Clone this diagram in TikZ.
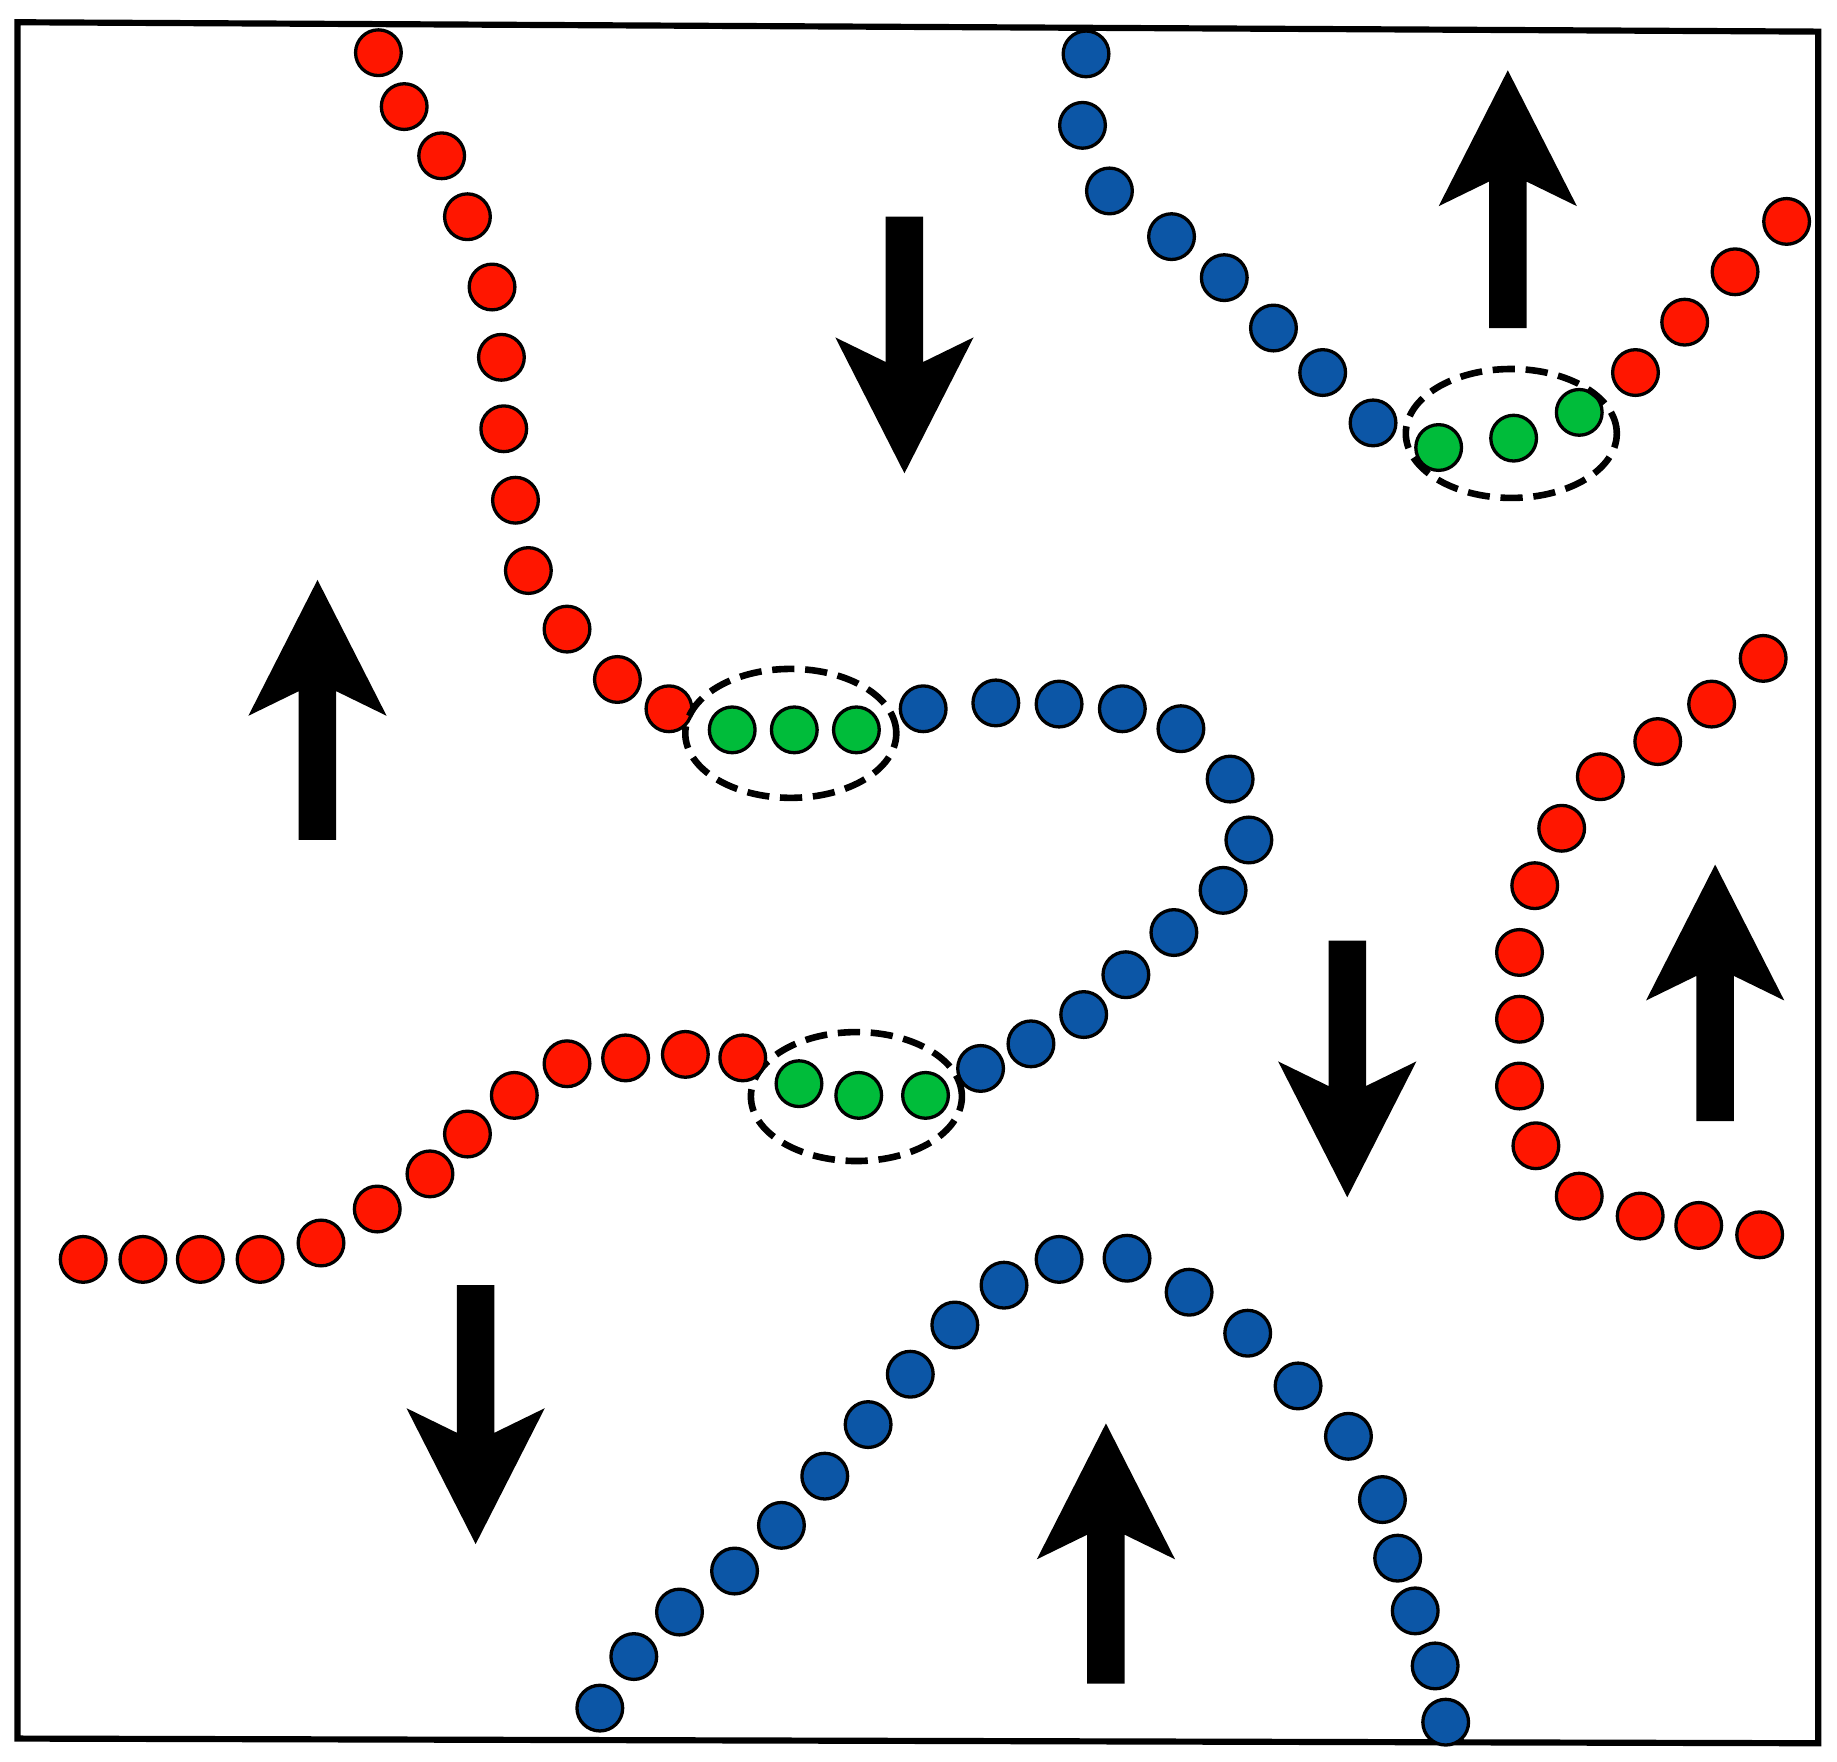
\documentclass[tikz,border=0pt]{standalone}
\usepackage{xcolor}
\usepackage{tikz}
\usetikzlibrary{calc,shapes.geometric}

\definecolor{beadred}{RGB}{255,22,0}
\definecolor{beadblue}{RGB}{12,86,166}
\definecolor{beadgreen}{RGB}{0,188,58}

% block arrow: x, tail y, tip y
\newcommand{\blockarrow}[3]{%
  \pgfmathsetmacro{\adir}{sign(#3-#2)}%
  \fill[black] (#1+16,#2) -- (#1+16,#3-95*\adir) -- (#1+59,#3-116*\adir) -- (#1,#3)
    -- (#1-59,#3-116*\adir) -- (#1-16,#3-95*\adir) -- (#1-16,#2) -- cycle;}

\begin{document}
\begin{tikzpicture}[x=0.01cm,y=-0.01cm,
  bead/.style={circle,draw=black,line width=0.8pt,inner sep=0pt,minimum size=0.39cm},
  redbead/.style={bead,fill=beadred},
  bluebead/.style={bead,fill=beadblue},
  greenbead/.style={bead,fill=beadgreen},
  cluster/.style={ellipse,draw=black,line width=1.6pt,dash pattern=on 5.4pt off 2.6pt,
    inner sep=0pt,minimum width=1.8cm,minimum height=1.1cm}]
\useasboundingbox (0,0) rectangle (1568,1504);
\draw[line width=1.5pt] (15,19) -- (1552,27) -- (1552,1488) -- (15,1484) -- cycle;

% long chain, upper red part
\foreach \x/\y [count=\i] in {323/45,345/91,377/133,399/185,420/245,428/305,430/366,
    440/427,451/487,484/537,527/580,571/605}
  \node[redbead] (ra\i) at (\x,\y) {};
\foreach \x/\y [count=\i] in {625/623,678/623,731/623}
  \node[greenbead] (ga\i) at (\x,\y) {};
\node[cluster] (ca) at (675,626) {};
% blue loop
\foreach \x/\y [count=\i] in {788/605,850/600,904/601,958/605,1008/622,1050/665,1066/717,
    1044/760,1002/796,961/832,925/866,880/891,837/912}
  \node[bluebead] (ba\i) at (\x,\y) {};
\foreach \x/\y [count=\i] in {790/935,733/935,682/925}
  \node[greenbead] (gb\i) at (\x,\y) {};
\node[cluster] (cb) at (731,936) {};
% lower red part
\foreach \x/\y [count=\i] in {634/903,585/900,534/903,484/908,439/935,399/968,367/1002,
    322/1032,274/1061,222/1075,171/1075,122/1075,71/1075}
  \node[redbead] (rb\i) at (\x,\y) {};

% top right chain
\foreach \x/\y [count=\i] in {927/46,924/107,947/163,1000/202,1045/237,1087/280,1129/318,1172/361}
  \node[bluebead] (bc\i) at (\x,\y) {};
\foreach \x/\y [count=\i] in {1228/382,1292/374,1348/352}
  \node[greenbead] (gc\i) at (\x,\y) {};
\node[cluster] (cc) at (1290,370) {};
\foreach \x/\y [count=\i] in {1396/318,1438/275,1481/232,1525/189}
  \node[redbead] (rc\i) at (\x,\y) {};

% right red arc
\foreach \x/\y [count=\i] in {1505/562,1461/601,1415/633,1366/663,1333/707,1310/756,1297/813,
    1297/870,1297/927,1311/978,1348/1021,1400/1038,1450/1046,1502/1054}
  \node[redbead] (rd\i) at (\x,\y) {};

% bottom blue arch
\foreach \x/\y [count=\i] in {512/1458,541/1414,580/1376,627/1341,667/1302,704/1260,741/1216,
    777/1173,815/1131,857/1097,904/1075,962/1074,1015/1103,1065/1138,1108/1183,1151/1226,
    1180/1280,1193/1330,1208/1375,1225/1422,1234/1470}
  \node[bluebead] (bd\i) at (\x,\y) {};

% arrows
\blockarrow{772}{185}{404}
\blockarrow{1287}{280}{60}
\blockarrow{271}{717}{495}
\blockarrow{1150}{803}{1022}
\blockarrow{1464}{957}{738}
\blockarrow{406}{1097}{1318}
\blockarrow{944}{1437}{1215}
\end{tikzpicture}
\end{document}
